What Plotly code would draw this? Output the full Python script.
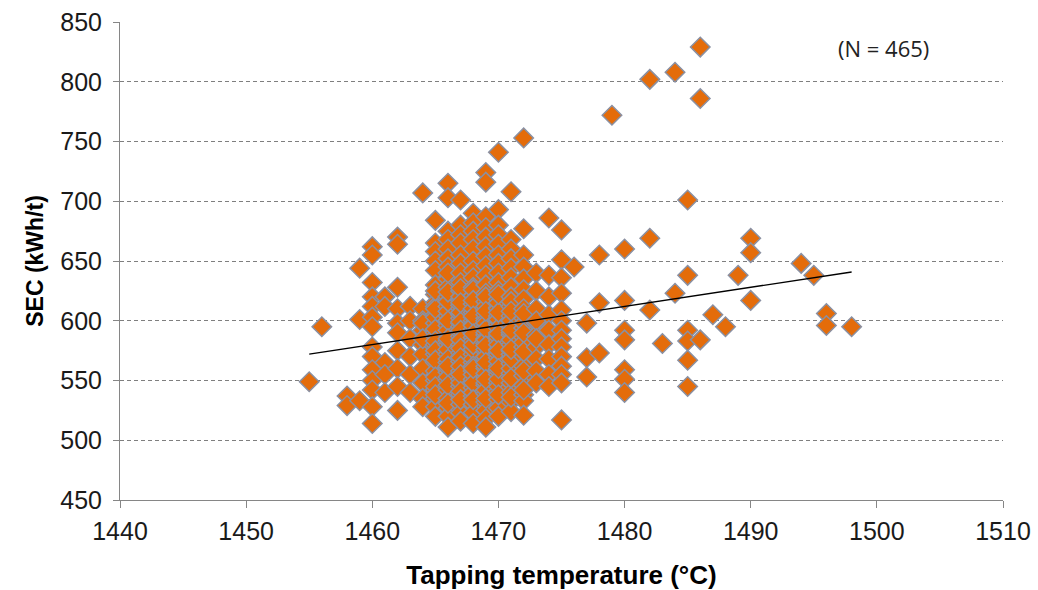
import plotly.graph_objects as go

# ---- data ----
temps = [1455, 1456, 1458, 1459, 1460, 1461, 1462, 1463, 1464, 1465, 1466, 1467,
         1468, 1469, 1470, 1471, 1472, 1473, 1474, 1475, 1476, 1477, 1478, 1479,
         1480, 1482, 1483, 1484, 1485, 1486, 1487, 1488, 1489, 1490, 1494, 1495,
         1496, 1498]

sec_groups = [
    [549],
    [595],
    [537, 529],
    [644, 601, 533],
    [662, 655, 632, 620, 612, 603, 595, 578, 570, 559, 550, 542, 528, 514],
    [620, 612, 565, 555, 540],
    [670, 664, 628, 610, 598, 590, 575, 560, 545, 525],
    [612, 600, 585, 570, 555, 540],
    [707, 610, 600, 592, 580, 572, 560, 548, 535, 528, 598, 585],
    [684, 665, 658, 650, 642, 630, 622, 615, 605, 598, 590, 580, 572, 565, 558,
     550, 542, 535, 528, 520, 612, 587, 603, 593, 583, 575, 567, 553, 545, 538,
     610, 625],
    [715, 703, 675, 668, 660, 652, 645, 635, 628, 620, 612, 604, 596, 588, 580,
     572, 565, 557, 550, 542, 535, 527, 520, 511, 600, 583, 560, 640, 608, 592,
     576, 568, 553, 546, 531, 616, 624, 600, 585, 562],
    [701, 680, 672, 665, 655, 648, 640, 632, 625, 617, 610, 602, 595, 587, 580,
     573, 566, 558, 551, 545, 538, 530, 523, 516, 590, 605, 570, 548, 620, 598,
     613, 607, 599, 592, 584, 577, 569, 562, 555, 541, 534, 627, 615],
    [690, 682, 675, 668, 660, 650, 642, 636, 628, 621, 614, 607, 600, 593, 586,
     579, 572, 565, 558, 551, 544, 537, 530, 523, 514, 610, 597, 583, 568, 555,
     540, 626, 617, 603, 590, 576, 562, 548, 534, 596, 580, 560, 604, 589],
    [724, 716, 687, 678, 670, 662, 654, 646, 638, 630, 623, 616, 609, 602, 595,
     588, 581, 574, 567, 560, 553, 546, 539, 532, 525, 518, 511, 605, 590, 576,
     562, 548, 600, 585, 612, 598, 584, 570, 556, 542, 535, 593, 579, 565, 551,
     620, 608],
    [741, 693, 680, 672, 664, 655, 648, 640, 632, 625, 618, 611, 604, 597, 590,
     583, 576, 569, 562, 555, 548, 541, 534, 527, 520, 600, 586, 572, 558, 545,
     610, 615, 601, 594, 580, 566, 551, 538, 607, 589, 575, 560, 622],
    [708, 668, 660, 652, 644, 636, 628, 620, 612, 604, 596, 588, 580, 572, 564,
     556, 548, 540, 532, 524, 590, 575, 560, 616, 600, 584, 568, 552, 536, 608,
     592, 576],
    [753, 677, 655, 645, 635, 626, 618, 610, 602, 594, 586, 578, 570, 562, 554,
     546, 538, 533, 521, 598, 582, 606, 590, 574, 558, 542],
    [640, 625, 610, 598, 588, 578, 568, 558, 548, 600, 585],
    [686, 638, 620, 605, 592, 580, 568, 555, 545],
    [676, 651, 636, 623, 609, 600, 592, 585, 578, 570, 562, 555, 548, 517],
    [645],
    [598, 569, 553],
    [655, 615, 573],
    [772],
    [660, 617, 592, 584, 559, 551, 540],
    [802, 669, 609],
    [581],
    [808, 623],
    [701, 638, 592, 583, 567, 545],
    [829, 786, 584],
    [605],
    [595],
    [638],
    [669, 657, 617],
    [648],
    [638],
    [606, 596],
    [595],
]

trend_slope = 1.6          # kWh/t per °C
trend_intercept = -1756.0  # kWh/t
n_label = "(N = 465)"

x_tick_vals = [1440, 1450, 1460, 1470, 1480, 1490, 1500, 1510]
y_tick_vals = [450, 500, 550, 600, 650, 700, 750, 800, 850]

# ---- build ----
xs, ys = [], []
for t, group in zip(temps, sec_groups):
    for v in group:
        xs.append(t)
        ys.append(v)

tx = [min(temps), max(temps)]
ty = [trend_intercept + trend_slope * t for t in tx]

fig = go.Figure()
fig.add_trace(go.Scatter(
    x=xs, y=ys, mode="markers",
    marker=dict(symbol="diamond", size=15, color="#E46C0A",
                line=dict(color="#8A90A2", width=1.5)),
    showlegend=False, hoverinfo="x+y",
))
fig.add_trace(go.Scatter(
    x=tx, y=ty, mode="lines",
    line=dict(color="#000000", width=1.3),
    showlegend=False, hoverinfo="skip",
))

tick_font = dict(family="Liberation Sans, Arial, sans-serif", size=25, color="#1a1a1a")
xtitle_font = dict(family="Liberation Sans, Arial, sans-serif", size=26, color="#000000",
                   weight="bold")
ytitle_font = dict(family="Liberation Sans, Arial, sans-serif", size=23, color="#000000",
                   weight="bold")

fig.update_layout(
    width=1038, height=590,
    margin=dict(l=120, r=35, t=22, b=90),
    paper_bgcolor="white", plot_bgcolor="white",
    xaxis=dict(
        range=[1440, 1510], tickvals=x_tick_vals, automargin=False,
        showgrid=False, zeroline=False,
        showline=True, linecolor="#868686", linewidth=1,
        ticks="outside", ticklen=7, tickcolor="#868686",
        tickfont=tick_font, ticklabelstandoff=2,
        title=dict(text="Tapping temperature (°C)", font=xtitle_font, standoff=26),
    ),
    yaxis=dict(
        range=[450, 850], tickvals=y_tick_vals, automargin=False,
        showgrid=True, gridcolor="#7F7F7F", gridwidth=1, griddash="4px,3px",
        zeroline=False,
        showline=True, linecolor="#868686", linewidth=1,
        ticks="outside", ticklen=6, tickcolor="#868686",
        tickfont=tick_font, ticklabelstandoff=6,
        title=dict(text="SEC (kWh/t)", font=ytitle_font, standoff=10),
    ),
    annotations=[dict(
        text=n_label, xref="paper", yref="paper", x=0.865, y=0.946,
        showarrow=False, xanchor="center", yanchor="middle",
        font=dict(family="Open Sans, Liberation Sans, sans-serif", size=22, color="#222222"),
    )],
)

fig.write_html("out.html")
